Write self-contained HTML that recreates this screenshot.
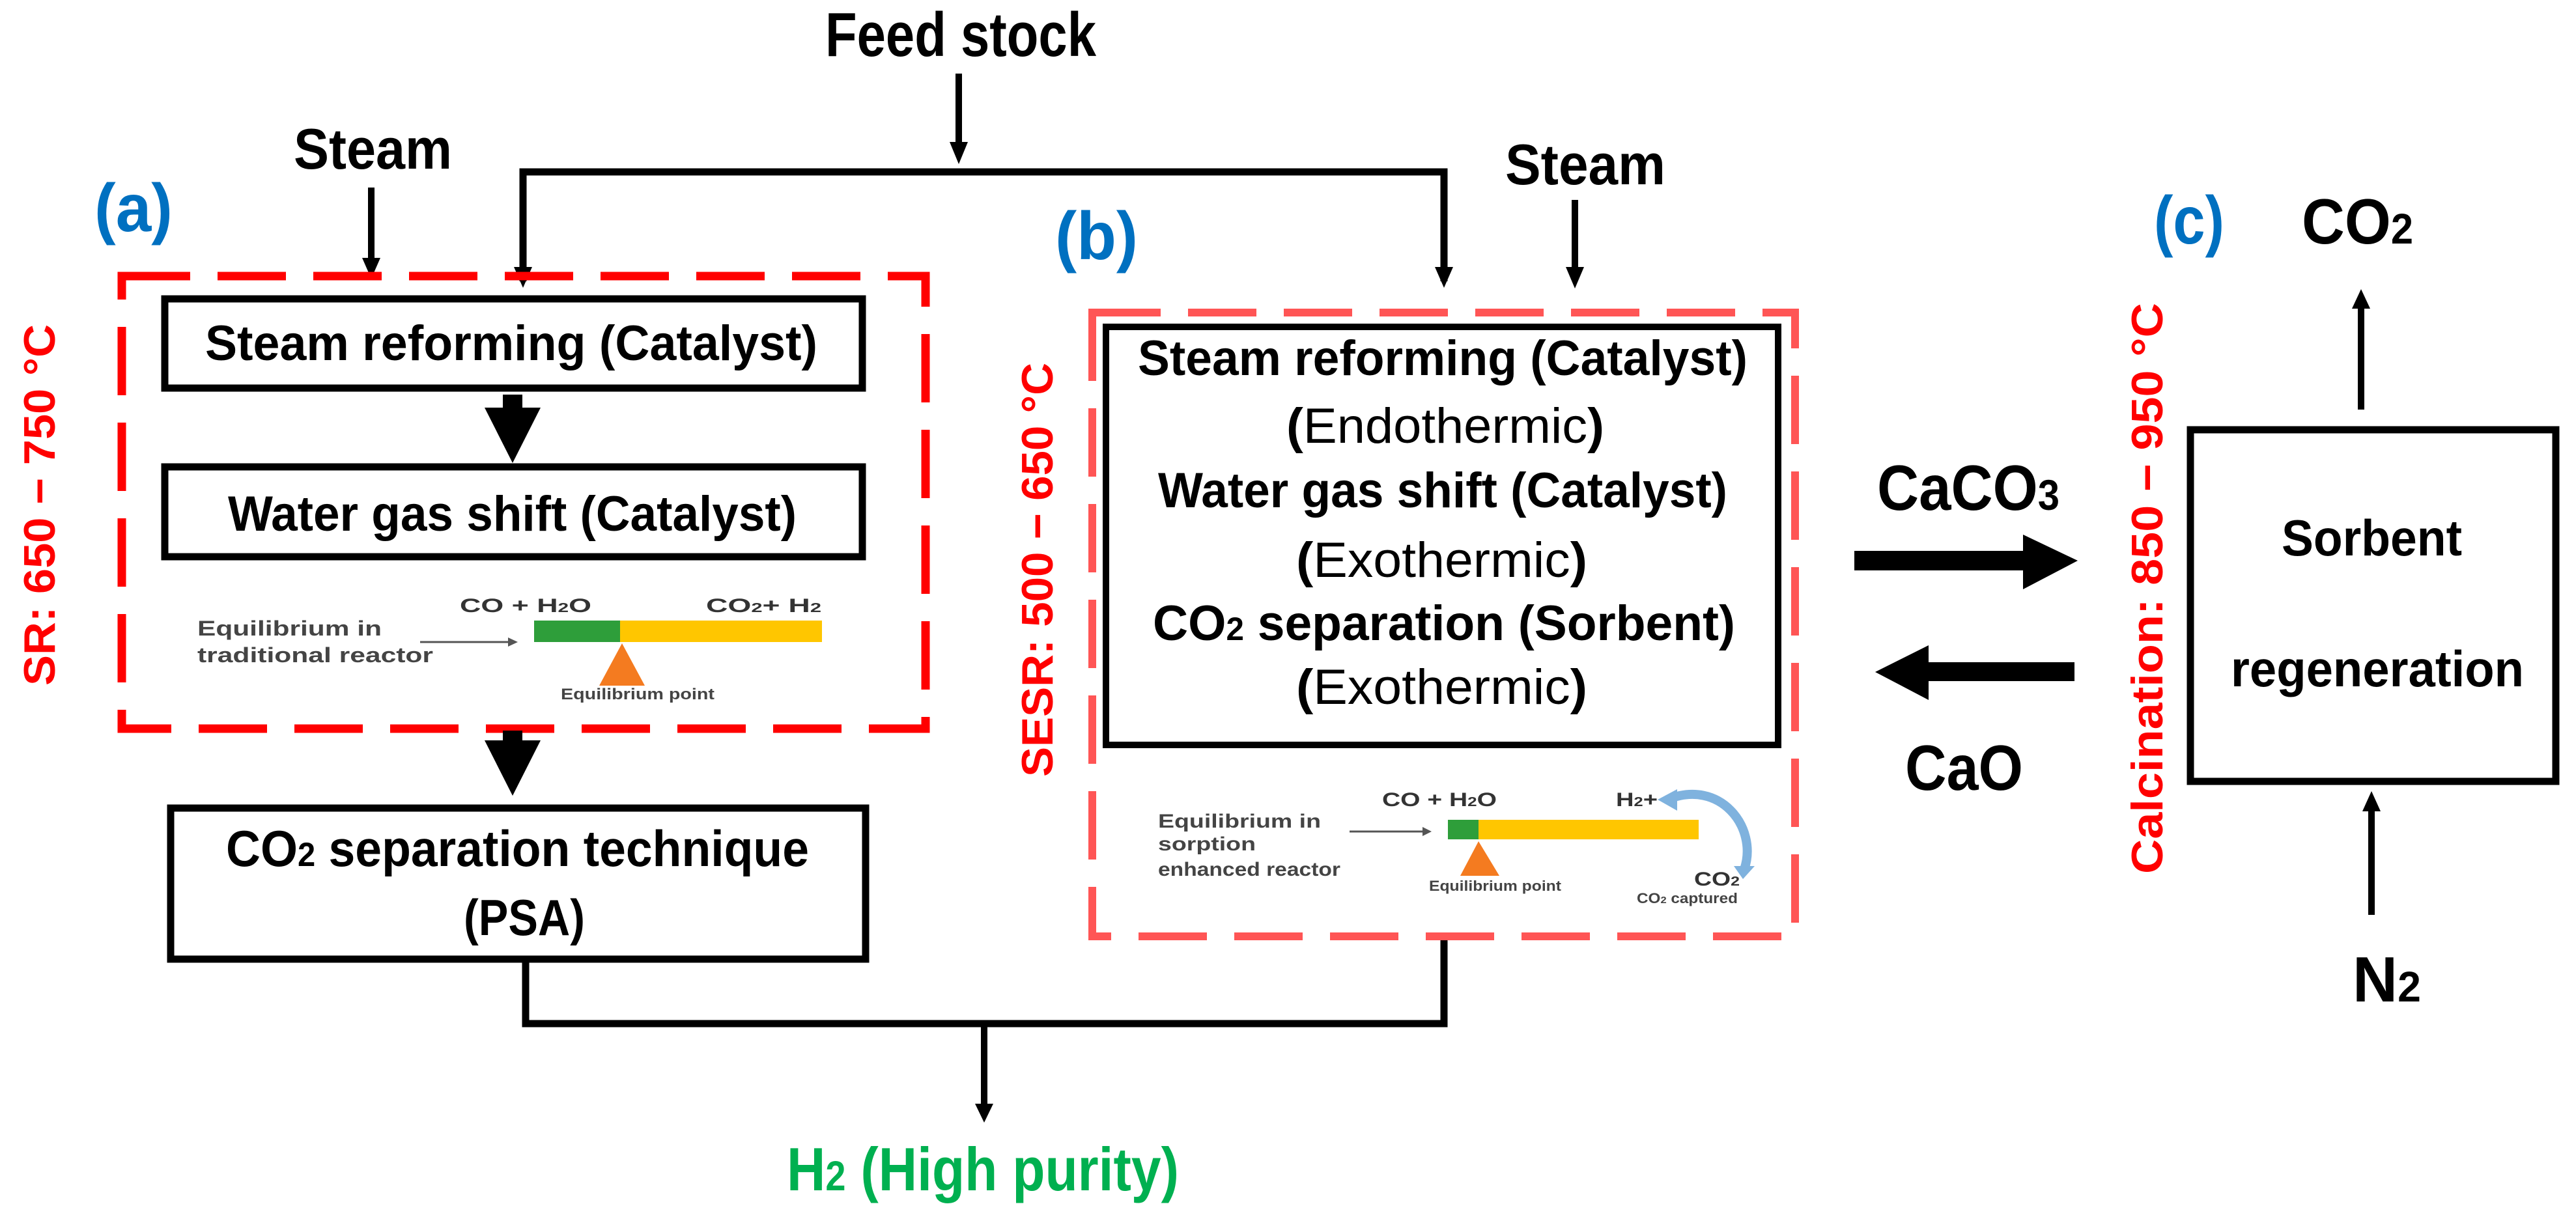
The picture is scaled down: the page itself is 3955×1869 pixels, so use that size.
<!DOCTYPE html>
<html><head><meta charset="utf-8"><style>
html,body{margin:0;padding:0;background:#fff;}
svg{display:block;}
text{font-family:"Liberation Sans",sans-serif;}
</style></head><body>
<svg width="3955" height="1869" viewBox="0 0 3955 1869" xmlns="http://www.w3.org/2000/svg">
<rect width="3955" height="1869" fill="#fff"/>

<!-- Feed stock -->
<text x="1267" y="86" font-size="96" font-weight="bold" textLength="416" lengthAdjust="spacingAndGlyphs">Feed stock</text>
<line x1="1472" y1="113" x2="1472" y2="222" stroke="#000" stroke-width="10"/>
<polygon points="1458,218 1486,218 1472,252" fill="#000"/>
<polyline points="803,432 803,264 2217,264 2217,432" fill="none" stroke="#000" stroke-width="11"/>
<polygon points="789,410 817,410 803,442" fill="#000"/>
<polygon points="2203,410 2231,410 2217,442" fill="#000"/>

<!-- Steam left -->
<text x="451" y="259" font-size="88" font-weight="bold" textLength="243" lengthAdjust="spacingAndGlyphs">Steam</text>
<line x1="570" y1="288" x2="570" y2="400" stroke="#000" stroke-width="10"/>
<polygon points="556,396 584,396 570,428" fill="#000"/>

<text x="145" y="355" font-size="104" font-weight="bold" fill="#0070C0" textLength="120" lengthAdjust="spacingAndGlyphs">(a)</text>

<text transform="translate(84,1053) rotate(-90)" font-size="68" font-weight="bold" fill="#FF0000" textLength="555" lengthAdjust="spacingAndGlyphs">SR: 650 − 750 °C</text>

<rect x="187" y="424" width="1234" height="695" fill="none" stroke="#FF0000" stroke-width="13" stroke-dasharray="105 42"/>

<rect x="253" y="459" width="1071" height="137" fill="#fff" stroke="#000" stroke-width="11"/>
<text x="315" y="553" font-size="76" font-weight="bold" textLength="940" lengthAdjust="spacingAndGlyphs">Steam reforming (Catalyst)</text>
<rect x="772" y="606" width="30" height="22" fill="#000"/>
<polygon points="744,626 830,626 787,711" fill="#000"/>
<rect x="253" y="717" width="1071" height="138" fill="#fff" stroke="#000" stroke-width="11"/>
<text x="350" y="815" font-size="76" font-weight="bold" textLength="873" lengthAdjust="spacingAndGlyphs">Water gas shift (Catalyst)</text>

<text x="706" y="940" font-size="30" font-weight="bold" fill="#333" textLength="202" lengthAdjust="spacingAndGlyphs">CO +  H<tspan font-size="20">2</tspan>O</text>
<text x="1084" y="940" font-size="30" font-weight="bold" fill="#333" textLength="177" lengthAdjust="spacingAndGlyphs">CO<tspan font-size="20">2</tspan>+  H<tspan font-size="20">2</tspan></text>
<text x="303" y="976" font-size="32" font-weight="bold" fill="#444" textLength="283" lengthAdjust="spacingAndGlyphs">Equilibrium in</text>
<text x="303" y="1017" font-size="32" font-weight="bold" fill="#444" textLength="362" lengthAdjust="spacingAndGlyphs">traditional reactor</text>
<line x1="645" y1="986" x2="785" y2="986" stroke="#555" stroke-width="3"/>
<polygon points="780,979 795,986 780,993" fill="#555"/>
<rect x="820" y="953" width="132" height="33" fill="#2E9E3A"/>
<rect x="952" y="953" width="310" height="33" fill="#FFC600"/>
<polygon points="955,988 920,1053 990,1053" fill="#F47B20"/>
<text x="861" y="1074" font-size="24" font-weight="bold" fill="#444" textLength="236" lengthAdjust="spacingAndGlyphs">Equilibrium point</text>

<rect x="772" y="1122" width="30" height="18" fill="#000"/>
<polygon points="744,1137 830,1137 787,1222" fill="#000"/>

<rect x="262" y="1241" width="1067" height="232" fill="#fff" stroke="#000" stroke-width="11"/>
<text x="347" y="1330" font-size="78" font-weight="bold" textLength="895" lengthAdjust="spacingAndGlyphs">CO<tspan font-size="52">2</tspan> separation technique</text>
<text x="712" y="1436" font-size="78" font-weight="bold" textLength="186" lengthAdjust="spacingAndGlyphs">(PSA)</text>

<polyline points="807,1478 807,1572 2217,1572 2217,1436" fill="none" stroke="#000" stroke-width="11"/>
<line x1="1511" y1="1572" x2="1511" y2="1700" stroke="#000" stroke-width="10"/>
<polygon points="1497,1695 1525,1695 1511,1724" fill="#000"/>
<text x="1208" y="1828" font-size="94" font-weight="bold" fill="#00B050" textLength="602" lengthAdjust="spacingAndGlyphs">H<tspan font-size="64">2</tspan> (High purity)</text>

<text x="1620" y="398" font-size="104" font-weight="bold" fill="#0070C0" textLength="127" lengthAdjust="spacingAndGlyphs">(b)</text>
<text x="2311" y="283" font-size="88" font-weight="bold" textLength="246" lengthAdjust="spacingAndGlyphs">Steam</text>
<line x1="2418" y1="307" x2="2418" y2="415" stroke="#000" stroke-width="10"/>
<polygon points="2404,410 2432,410 2418,443" fill="#000"/>

<text transform="translate(1616,1193) rotate(-90)" font-size="68" font-weight="bold" fill="#FF0000" textLength="636" lengthAdjust="spacingAndGlyphs">SESR: 500 − 650 °C</text>

<rect x="1677" y="480" width="1079" height="958" fill="none" stroke="#FF5555" stroke-width="12" stroke-dasharray="105 42"/>
<rect x="1698" y="502" width="1032" height="642" fill="#fff" stroke="#000" stroke-width="10"/>
<text x="1747" y="576" font-size="76" font-weight="bold" textLength="936" lengthAdjust="spacingAndGlyphs">Steam reforming (Catalyst)</text>
<text x="1975" y="680" font-size="76" textLength="488" lengthAdjust="spacingAndGlyphs"><tspan font-weight="bold">(</tspan>Endothermic<tspan font-weight="bold">)</tspan></text>
<text x="1778" y="779" font-size="76" font-weight="bold" textLength="874" lengthAdjust="spacingAndGlyphs">Water gas shift (Catalyst)</text>
<text x="1990" y="886" font-size="76" textLength="447" lengthAdjust="spacingAndGlyphs"><tspan font-weight="bold">(</tspan>Exothermic<tspan font-weight="bold">)</tspan></text>
<text x="1770" y="983" font-size="76" font-weight="bold" textLength="894" lengthAdjust="spacingAndGlyphs">CO<tspan font-size="50">2</tspan> separation  (Sorbent)</text>
<text x="1990" y="1081" font-size="76" textLength="447" lengthAdjust="spacingAndGlyphs"><tspan font-weight="bold">(</tspan>Exothermic<tspan font-weight="bold">)</tspan></text>

<text x="1778" y="1271" font-size="30" font-weight="bold" fill="#444" textLength="250" lengthAdjust="spacingAndGlyphs">Equilibrium in</text>
<text x="1778" y="1306" font-size="30" font-weight="bold" fill="#444" textLength="150" lengthAdjust="spacingAndGlyphs">sorption</text>
<text x="1778" y="1345" font-size="30" font-weight="bold" fill="#444" textLength="280" lengthAdjust="spacingAndGlyphs">enhanced reactor</text>
<line x1="2072" y1="1277" x2="2188" y2="1277" stroke="#555" stroke-width="3"/>
<polygon points="2184,1270 2198,1277 2184,1284" fill="#555"/>
<text x="2122" y="1238" font-size="30" font-weight="bold" fill="#333" textLength="176" lengthAdjust="spacingAndGlyphs">CO +  H<tspan font-size="20">2</tspan>O</text>
<text x="2481" y="1238" font-size="30" font-weight="bold" fill="#333" textLength="64" lengthAdjust="spacingAndGlyphs">H<tspan font-size="20">2</tspan>+</text>
<rect x="2223" y="1259" width="47" height="30" fill="#2E9E3A"/>
<rect x="2270" y="1259" width="338" height="30" fill="#FFC600"/>
<polygon points="2270,1292 2242,1345 2302,1345" fill="#F47B20"/>
<text x="2194" y="1368" font-size="22" font-weight="bold" fill="#444" textLength="203" lengthAdjust="spacingAndGlyphs">Equilibrium point</text>
<path d="M2560,1228 C2640,1195 2700,1270 2678,1335" fill="none" stroke="#7FB2DE" stroke-width="14"/>
<polygon points="2545,1228 2575,1212 2575,1245" fill="#7FB2DE"/>
<polygon points="2662,1330 2694,1330 2676,1350" fill="#7FB2DE"/>
<text x="2601" y="1360" font-size="30" font-weight="bold" fill="#333" textLength="70" lengthAdjust="spacingAndGlyphs">CO<tspan font-size="20">2</tspan></text>
<text x="2513" y="1387" font-size="22" font-weight="bold" fill="#444" textLength="155" lengthAdjust="spacingAndGlyphs">CO<tspan font-size="15">2</tspan> captured</text>

<text x="2882" y="783" font-size="98" font-weight="bold" textLength="280" lengthAdjust="spacingAndGlyphs">CaCO<tspan font-size="66">3</tspan></text>
<rect x="2847" y="846" width="262" height="30" fill="#000"/>
<polygon points="3106,821 3190,861 3106,905" fill="#000"/>
<rect x="2958" y="1017" width="227" height="29" fill="#000"/>
<polygon points="2961,991 2879,1032 2961,1075" fill="#000"/>
<text x="2925" y="1213" font-size="98" font-weight="bold" textLength="181" lengthAdjust="spacingAndGlyphs">CaO</text>

<text transform="translate(3320,1342) rotate(-90)" font-size="68" font-weight="bold" fill="#FF0000" textLength="877" lengthAdjust="spacingAndGlyphs">Calcination:  850 − 950 °C</text>

<text x="3307" y="374" font-size="104" font-weight="bold" fill="#0070C0" textLength="108" lengthAdjust="spacingAndGlyphs">(c)</text>
<text x="3534" y="374" font-size="98" font-weight="bold" textLength="171" lengthAdjust="spacingAndGlyphs">CO<tspan font-size="66">2</tspan></text>
<line x1="3625" y1="629" x2="3625" y2="470" stroke="#000" stroke-width="10"/>
<polygon points="3611,474 3639,474 3625,444" fill="#000"/>

<rect x="3363" y="660" width="561" height="540" fill="#fff" stroke="#000" stroke-width="11"/>
<text x="3503" y="853" font-size="78" font-weight="bold" textLength="277" lengthAdjust="spacingAndGlyphs">Sorbent</text>
<text x="3425" y="1054" font-size="78" font-weight="bold" textLength="450" lengthAdjust="spacingAndGlyphs">regeneration</text>

<line x1="3641" y1="1405" x2="3641" y2="1242" stroke="#000" stroke-width="10"/>
<polygon points="3627,1246 3655,1246 3641,1215" fill="#000"/>
<text x="3612" y="1538" font-size="98" font-weight="bold" textLength="105" lengthAdjust="spacingAndGlyphs">N<tspan font-size="66">2</tspan></text>
</svg>
</body></html>
